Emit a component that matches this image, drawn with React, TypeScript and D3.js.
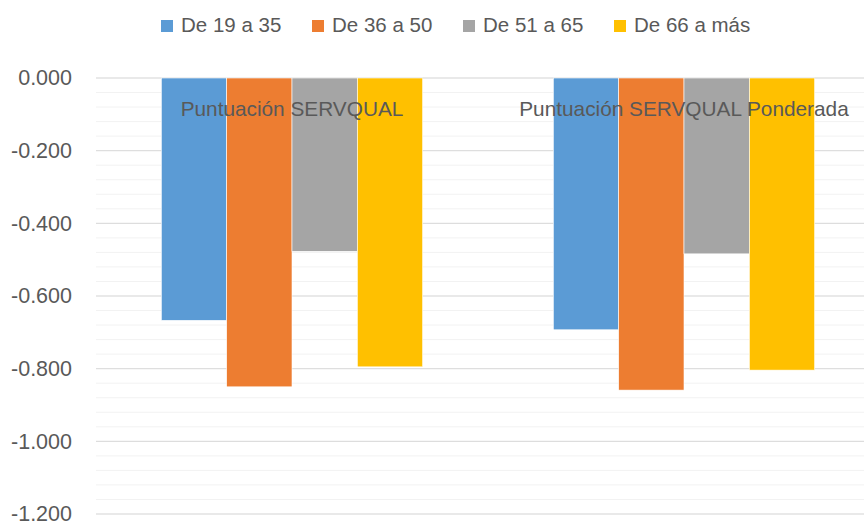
import * as d3 from "d3";

const categories = ["Puntuación SERVQUAL", "Puntuación SERVQUAL Ponderada"];
const series = ["De 19 a 35", "De 36 a 50", "De 51 a 65", "De 66 a más"];
const colors = ["#5B9BD5", "#ED7D31", "#A5A5A5", "#FFC000"];
// values[series][category]
const age19to35 = [-0.667, -0.693];
const age36to50 = [-0.85, -0.859];
const age51to65 = [-0.477, -0.484];
const age66plus = [-0.795, -0.804];
const values = [age19to35, age36to50, age51to65, age66plus];
const majorTicks = [0, -0.2, -0.4, -0.6, -0.8, -1.0, -1.2];

const W = 864;
const H = 523;
const margin = { top: 78, right: -16, bottom: 9, left: 96 };
const font = "'Liberation Sans', Arial, sans-serif";
const textColor = "#595959";

const App = () => {
  const x0 = d3
    .scaleBand()
    .domain(categories)
    .range([margin.left, W - margin.right])
    .padding(0);
  const bw = x0.bandwidth();
  const x1 = d3
    .scaleBand()
    .domain(series)
    .range([bw / 6, (bw * 5) / 6])
    .padding(0);

  const y = d3
    .scaleLinear()
    .domain([0, -1.2])
    .range([margin.top, H - margin.bottom]);

  const minorTicks = d3.range(0, 31).map((i) => -i * 0.04);

  const legendStep = 151;
  const legendX = 161;

  return (
    <svg
      width={W}
      height={H}
      style={{ display: "block", position: "absolute", left: 0, top: 0 }}
    >
      <rect width={W} height={H} fill="#fff" />
      {/* minor grid */}
      <g>
        {minorTicks.map((t, i) => (
          <line
            key={"m" + i}
            x1={margin.left}
            x2={W}
            y1={y(t)}
            y2={y(t)}
            stroke="#F2F2F2"
            strokeWidth={1}
          />
        ))}
      </g>
      {/* major grid + labels */}
      <g>
        {majorTicks.map((t, i) => (
          <g key={"M" + i}>
            <line
              x1={margin.left}
              x2={W}
              y1={y(t)}
              y2={y(t)}
              stroke="#D9D9D9"
              strokeWidth={1}
            />
            <text
              x={72}
              y={y(t)}
              dy="0.34em"
              textAnchor="end"
              fontFamily={font}
              fontSize={21.5}
              fill={textColor}
            >
              {d3.format(".3f")(t).replace("−", "-")}
            </text>
          </g>
        ))}
      </g>
      {/* bars */}
      <g>
        {categories.map((c, ci) => (
          <g key={c} transform={`translate(${x0(c)},0)`}>
            {series.map((s, si) => (
              <rect
                key={s}
                x={x1(s)}
                y={y(0)}
                width={x1.bandwidth()}
                height={y(values[si][ci]) - y(0)}
                fill={colors[si]}
                stroke="#fff"
                strokeWidth={0.6}
              />
            ))}
          </g>
        ))}
      </g>
      {/* category labels */}
      <g>
        {categories.map((c) => (
          <text
            key={c}
            x={(x0(c) as number) + bw / 2}
            y={116}
            textAnchor="middle"
            fontFamily={font}
            fontSize={20.8}
            fill={textColor}
          >
            {c}
          </text>
        ))}
      </g>
      {/* legend */}
      <g>
        {series.map((s, i) => (
          <g key={s} transform={`translate(${legendX + i * legendStep},0)`}>
            <rect x={0} y={20} width={12} height={12} fill={colors[i]} />
            <text
              x={20}
              y={32}
              fontFamily={font}
              fontSize={20.5}
              fill={textColor}
            >
              {s}
            </text>
          </g>
        ))}
      </g>
    </svg>
  );
};

export default App;
